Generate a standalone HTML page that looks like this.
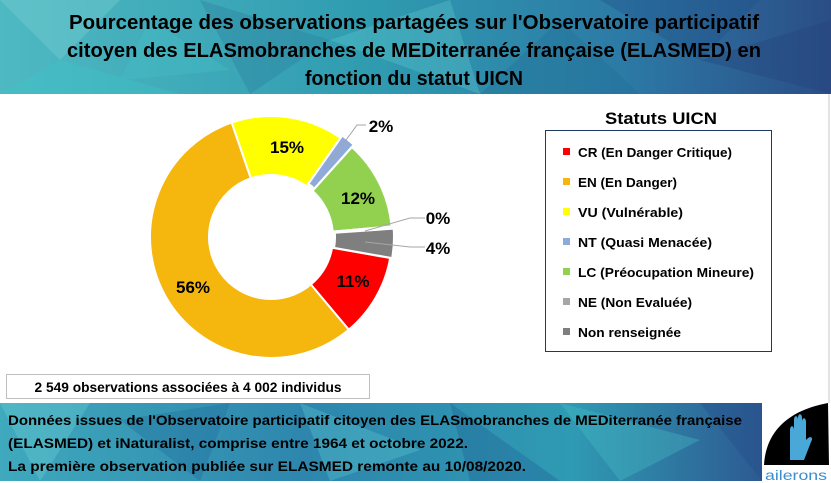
<!DOCTYPE html>
<html><head><meta charset="utf-8"><style>
html,body{margin:0;padding:0;background:#fff;}
svg{display:block;font-family:"Liberation Sans",sans-serif;font-weight:bold;}
</style></head><body>
<svg width="831" height="483" viewBox="0 0 831 483" xmlns="http://www.w3.org/2000/svg">
<defs>
<linearGradient id="gt" x1="0" y1="0" x2="1" y2="0">
<stop offset="0" stop-color="#4fb9c2"/><stop offset="0.45" stop-color="#2f9bb0"/><stop offset="0.75" stop-color="#2c7aa6"/><stop offset="1" stop-color="#2b4d86"/>
</linearGradient>
<linearGradient id="gb" x1="0" y1="0" x2="1" y2="0">
<stop offset="0" stop-color="#3fa9bd"/><stop offset="0.4" stop-color="#2e86ad"/><stop offset="0.75" stop-color="#2f9ab3"/><stop offset="1" stop-color="#2d5a92"/>
</linearGradient>
</defs>
<rect x="0" y="0" width="831" height="483" fill="#fff"/>
<rect x="0" y="0" width="831" height="94" fill="url(#gt)"/>
<g opacity="0.35">
<polygon points="0,0 120,0 60,60" fill="#7fd3d6"/>
<polygon points="60,60 180,94 0,94" fill="#3ec6c9"/>
<polygon points="200,0 330,40 250,94" fill="#2a7e9c"/>
<polygon points="330,40 450,0 480,94" fill="#5fc8cf"/>
<polygon points="480,94 560,20 640,94" fill="#1f6f95"/>
<polygon points="600,0 760,0 700,60" fill="#1e4f88"/>
<polygon points="700,60 831,20 831,94" fill="#22427a"/>
<polygon points="150,20 230,70 120,80" fill="#46c2c8"/>
</g>
<rect x="0" y="403" width="762" height="78" fill="url(#gb)"/>
<g opacity="0.35">
<polygon points="0,403 90,403 40,481" fill="#6fd0d4"/>
<polygon points="120,420 230,403 200,481" fill="#1f6b9a"/>
<polygon points="300,403 420,450 330,481" fill="#5cc9d0"/>
<polygon points="450,403 560,481 470,481" fill="#1e5e93"/>
<polygon points="560,403 700,440 620,481" fill="#48c0c6"/>
<polygon points="700,403 762,403 762,481" fill="#234d88"/>
</g>
<g font-size="20" fill="#000" text-anchor="middle">
<text x="414" y="29" textLength="690" lengthAdjust="spacingAndGlyphs">Pourcentage des observations partagées sur l'Observatoire participatif</text>
<text x="414" y="57" textLength="694" lengthAdjust="spacingAndGlyphs">citoyen des ELASmobranches de MEDiterranée française (ELASMED) en</text>
<text x="414" y="85" textLength="218" lengthAdjust="spacingAndGlyphs">fonction du statut UICN</text>
</g>
<line x1="829" y1="94" x2="829" y2="403" stroke="#c8c8c8" stroke-width="1"/>
<g id="donut" stroke="#fff" stroke-width="2"></g>
<g stroke="#a6a6a6" stroke-width="1" fill="none">
<polyline points="330,162 357,125 366,125"/>
<polyline points="365,231 410,218 425,218"/>
<polyline points="365,242 410,247 425,247"/>
</g>
<g font-size="17" fill="#000" text-anchor="middle">
<text x="287" y="153">15%</text>
<text x="358" y="204">12%</text>
<text x="193" y="293">56%</text>
<text x="353" y="287">11%</text>
<text x="381" y="132">2%</text>
<text x="438" y="224">0%</text>
<text x="438" y="254">4%</text>
</g>
<text x="661" y="124" font-size="17" text-anchor="middle" textLength="112" lengthAdjust="spacingAndGlyphs">Statuts UICN</text>
<rect x="545.5" y="130.5" width="226" height="221" fill="#fff" stroke="#1f3a5f" stroke-width="1"/>
<g font-size="13">
<rect x="563" y="148" width="7" height="7" fill="#ff0000"/><text x="578" y="157" textLength="154" lengthAdjust="spacingAndGlyphs">CR (En Danger Critique)</text>
<rect x="563" y="178" width="7" height="7" fill="#f5b60d"/><text x="578" y="187" textLength="99" lengthAdjust="spacingAndGlyphs">EN (En Danger)</text>
<rect x="563" y="208" width="7" height="7" fill="#ffff00"/><text x="578" y="217" textLength="105" lengthAdjust="spacingAndGlyphs">VU (Vulnérable)</text>
<rect x="563" y="238" width="7" height="7" fill="#8eaadb"/><text x="578" y="247" textLength="134" lengthAdjust="spacingAndGlyphs">NT (Quasi Menacée)</text>
<rect x="563" y="268" width="7" height="7" fill="#92d050"/><text x="578" y="277" textLength="176" lengthAdjust="spacingAndGlyphs">LC (Préocupation Mineure)</text>
<rect x="563" y="298" width="7" height="7" fill="#a6a6a6"/><text x="578" y="307" textLength="114" lengthAdjust="spacingAndGlyphs">NE (Non Evaluée)</text>
<rect x="563" y="328" width="7" height="7" fill="#7f7f7f"/><text x="578" y="337" textLength="103" lengthAdjust="spacingAndGlyphs">Non renseignée</text>
</g>
<rect x="6.5" y="374.5" width="363" height="24" fill="#fff" stroke="#bfbfbf"/>
<text x="188" y="392" font-size="14" text-anchor="middle" textLength="307" lengthAdjust="spacingAndGlyphs">2 549 observations associées à 4 002 individus</text>
<g font-size="14" fill="#000">
<text x="8" y="425" textLength="734" lengthAdjust="spacingAndGlyphs">Données issues de l'Observatoire participatif citoyen des ELASmobranches de MEDiterranée française</text>
<text x="8" y="448" textLength="460" lengthAdjust="spacingAndGlyphs">(ELASMED) et iNaturalist, comprise entre 1964 et octobre 2022.</text>
<text x="8" y="471" textLength="518" lengthAdjust="spacingAndGlyphs">La première observation publiée sur ELASMED remonte au 10/08/2020.</text>
</g>
<path d="M764,465 C766,430 790,410 828,403 L829,465 Z" fill="#000"/>
<path d="M790,460 L790,430 C790,425 794,425 794,430 L794,420 C794,415 798,415 798,420 L798,418 C798,413 802,413 802,418 L802,422 C802,417 806,417 806,422 L806,440 C810,435 814,437 811,442 L804,460 Z" fill="#4aa8d8"/>
<text x="796" y="480" font-size="14" fill="#3a8fcf" font-weight="normal" text-anchor="middle" textLength="62" lengthAdjust="spacingAndGlyphs">ailerons</text>
<script>
(function(){
var cx=271,cy=237,R=121,r=62;
var s=[[-19,35,'#ffff00',0],[35,42,'#8eaadb',3],[42,85,'#92d050',0],[85,86,'#a6a6a6',2],[86,100,'#7f7f7f',2],[100,140,'#ff0000',0],[140,341,'#f5b60d',0]];
var g=document.getElementById('donut');
function p(a,rad,ox,oy){var t=(a-90)*Math.PI/180;return (cx+ox+rad*Math.cos(t)).toFixed(2)+','+(cy+oy+rad*Math.sin(t)).toFixed(2);}
s.forEach(function(d){
var mid=((d[0]+d[1])/2-90)*Math.PI/180,ox=d[3]*Math.cos(mid),oy=d[3]*Math.sin(mid);
var large=(d[1]-d[0])>180?1:0;
var path='M'+p(d[0],R,ox,oy)+' A'+R+','+R+' 0 '+large+' 1 '+p(d[1],R,ox,oy)+' L'+p(d[1],r,ox,oy)+' A'+r+','+r+' 0 '+large+' 0 '+p(d[0],r,ox,oy)+' Z';
var e=document.createElementNS('http://www.w3.org/2000/svg','path');
e.setAttribute('d',path);e.setAttribute('fill',d[2]);g.appendChild(e);
});
})();
</script>
</svg>
</body></html>
